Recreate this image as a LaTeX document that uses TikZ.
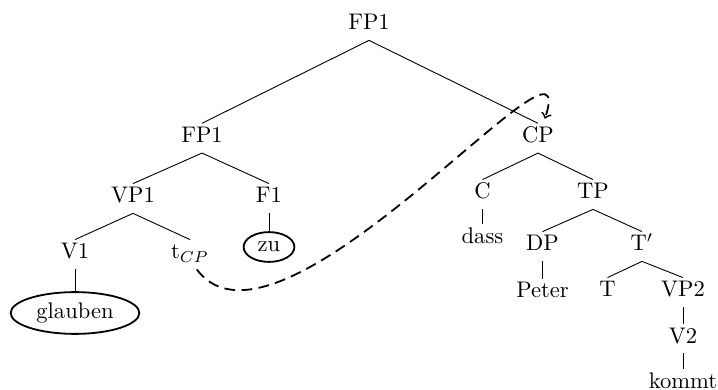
\documentclass[tikz,border=0pt]{standalone}
\usetikzlibrary{shapes.geometric}
\begin{document}
\begin{tikzpicture}[x=0.443pt,y=-0.443pt,
  lbl/.style={anchor=base,inner xsep=1pt,inner ysep=2pt,text height=6.4pt,text depth=2.4pt},
  ring/.style={ellipse,draw,thick,inner sep=0pt},
  branch/.style={draw},
  move/.style={thick,dash pattern=on 4.8pt off 2.8pt,->}]
\useasboundingbox (0,0) rectangle (718,390);
% labels of the tree
\node[lbl] (fp1)   at (369,30)    {FP1};
\node[lbl] (fp1b)  at (202,142.7) {FP1};
\node[lbl] (cp)    at (538,142.7) {CP};
\node[lbl] (vp1)   at (133,203)   {VP1};
\node[lbl] (f1)    at (269,203)   {F1};
\node[lbl] (v1)    at (75,259)    {V1};
\node[lbl] (tcp)   at (190,259)   {t$_{CP}$};
\node[ring,minimum width=57pt,minimum height=18.5pt] (glauben) at (75,313) {glauben};
\node[ring,minimum width=22.5pt,minimum height=13.2pt] (zu) at (269,247) {zu};
\node[lbl] (c)     at (482.5,199) {C};
\node[lbl] (tp)    at (593,199)   {TP};
\node[lbl] (dass)  at (482.5,243) {dass};
\node[lbl] (dp)    at (542.5,251) {DP};
\node[lbl] (tbar)  at (642,251)   {T$'$};
\node[lbl] (peter) at (542.5,298) {Peter};
\node[lbl] (t)     at (607.5,297) {T};
\node[lbl] (vp2)   at (683,297)   {VP2};
\node[lbl] (v2)    at (683,343)   {V2};
\node[lbl] (kommt) at (683,388)   {kommt};
% branches
\path[branch] (fp1.south) -- (fp1b.north);
\path[branch] (fp1.south) -- (cp.north);
\path[branch] (fp1b.south) -- (vp1.north);
\path[branch] (fp1b.south) -- (f1.north);
\path[branch] (vp1.south) -- (v1.north);
\path[branch] (vp1.south) -- (tcp.north);
\path[branch] (v1.south) -- (glauben.north);
\path[branch] (f1.south) -- (zu.north);
\path[branch] (cp.south) -- (c.north);
\path[branch] (cp.south) -- (tp.north);
\path[branch] (c.south) -- (dass.north);
\path[branch] (tp.south) -- (dp.north);
\path[branch] (tp.south) -- (tbar.north);
\path[branch] (dp.south) -- (peter.north);
\path[branch] (tbar.south) -- (t.north);
\path[branch] (tbar.south) -- (vp2.north);
\path[branch] (vp2.south) -- (v2.north);
\path[branch] (v2.south) -- (kommt.north);
% movement of the CP from its trace
\draw[move] ([xshift=3pt]tcp.south) .. controls +(83,112) and +(40,-120) .. ([xshift=3pt,yshift=2pt]cp.north);
\end{tikzpicture}
\end{document}
